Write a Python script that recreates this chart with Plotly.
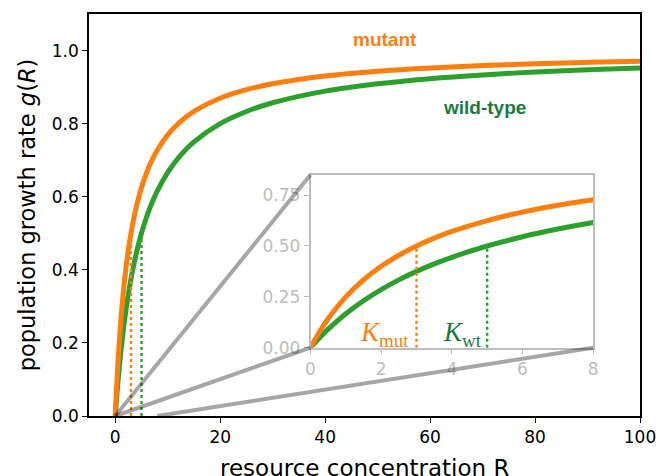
import plotly.graph_objects as go

# data
R = [0, 0.25, 0.5, 1, 1.5, 2, 2.5, 3, 3.5, 4, 5, 6, 7, 8, 10, 12, 15, 20, 25,
     30, 40, 50, 60, 70, 80, 90, 100]
g_mut = [0, 0.0769, 0.1429, 0.25, 0.3333, 0.4, 0.4545, 0.5, 0.5385, 0.5714,
         0.625, 0.6667, 0.7, 0.7273, 0.7692, 0.8, 0.8333, 0.8696, 0.8929,
         0.9091, 0.9302, 0.9434, 0.9524, 0.9589, 0.9639, 0.9677, 0.9709]
g_wt = [0, 0.0476, 0.0909, 0.1667, 0.2308, 0.2857, 0.3333, 0.375, 0.4118,
        0.4444, 0.5, 0.5455, 0.5833, 0.6154, 0.6667, 0.7059, 0.75, 0.8,
        0.8333, 0.8571, 0.8889, 0.9091, 0.9231, 0.9333, 0.9412, 0.9474, 0.9524]
K_mut = 3
K_wt = 5
half = 0.5
main_xticks = [0, 20, 40, 60, 80, 100]
main_yticks = [0.0, 0.2, 0.4, 0.6, 0.8, 1.0]
inset_xticks = [0, 2, 4, 6, 8]
inset_yticks = [0.0, 0.25, 0.5, 0.75]

ORANGE = "#ff7f0e"
GREEN = "#2ca02c"
DKGREEN = "#1a7a3c"
GRAY = "rgba(0,0,0,0.35)"
LGRAY = "#bdbdbd"

main_xr = [-5, 100]
main_yr = [0, 1.1]
inset_xr = [0, 8]
inset_yr = [0, 0.85]
inset_dx = [0.402, 0.915]
inset_dy = [0.170, 0.600]

fig = go.Figure()

for xa, ya, w in [("x", "y", 5), ("x2", "y2", 5)]:
    fig.add_trace(go.Scatter(x=R, y=g_wt, mode="lines", line=dict(color=GREEN, width=w, shape="spline"),
                             xaxis=xa, yaxis=ya, showlegend=False, hoverinfo="skip"))
    fig.add_trace(go.Scatter(x=R, y=g_mut, mode="lines", line=dict(color=ORANGE, width=w, shape="spline"),
                             xaxis=xa, yaxis=ya, showlegend=False, hoverinfo="skip"))
    fig.add_trace(go.Scatter(x=[K_mut, K_mut], y=[0, half], mode="lines",
                             line=dict(color=ORANGE, width=2.4, dash="dot"),
                             xaxis=xa, yaxis=ya, showlegend=False, hoverinfo="skip"))
    fig.add_trace(go.Scatter(x=[K_wt, K_wt], y=[0, half], mode="lines",
                             line=dict(color=GREEN, width=2.4, dash="dot"),
                             xaxis=xa, yaxis=ya, showlegend=False, hoverinfo="skip"))


def to_paper_x(v):
    return (v - main_xr[0]) / (main_xr[1] - main_xr[0])


def to_paper_y(v):
    return (v - main_yr[0]) / (main_yr[1] - main_yr[0])


# connector lines from zoomed region to inset corners
conns = [((inset_xr[0], inset_yr[0]), (inset_dx[0], inset_dy[1])),
         ((inset_xr[0], inset_yr[0]), (inset_dx[0], inset_dy[0])),
         ((inset_xr[1], inset_yr[0]), (inset_dx[1], inset_dy[0]))]
for (sx, sy), (ex, ey) in conns:
    fig.add_shape(type="line", xref="paper", yref="paper",
                  x0=to_paper_x(sx), y0=to_paper_y(sy), x1=ex, y1=ey,
                  line=dict(color=GRAY, width=4), layer="above")

fig.add_annotation(x=51.4, y=1.03, xref="x", yref="y", text="<b>mutant</b>", showarrow=False,
                   font=dict(family="Liberation Sans", size=19, color=ORANGE))
fig.add_annotation(x=70.4, y=0.845, xref="x", yref="y", text="<b>wild-type</b>", showarrow=False,
                   font=dict(family="Liberation Sans", size=19, color=DKGREEN))
fig.add_annotation(x=2.1, y=0.065, xref="x2", yref="y2", text="<i>K</i><sub>mut</sub>", showarrow=False,
                   font=dict(family="Liberation Serif", size=27, color=ORANGE))
fig.add_annotation(x=4.3, y=0.065, xref="x2", yref="y2", text="<i>K</i><sub>wt</sub>", showarrow=False,
                   font=dict(family="Liberation Serif", size=27, color=DKGREEN))
# x-axis title (placed as annotation so it can sit partly below the page edge)
fig.add_annotation(x=0.5, y=-0.13, xref="paper", yref="paper", text="resource concentration R",
                   showarrow=False, yanchor="middle", font=dict(family="DejaVu Sans", size=23, color="black"))

fig.update_layout(
    width=659, height=476,
    margin=dict(l=89, r=19, t=14, b=60, autoexpand=False),
    paper_bgcolor="white", plot_bgcolor="white",
    font=dict(family="DejaVu Sans", size=17, color="black"),
    xaxis=dict(range=main_xr, tickvals=main_xticks, showgrid=False, zeroline=False, automargin=False,
               showline=True, linecolor="black", linewidth=1.6, mirror=True,
               ticks="outside", ticklen=5, tickwidth=1.4, tickcolor="black"),
    yaxis=dict(range=main_yr, tickvals=main_yticks, tickformat=".1f", showgrid=False, zeroline=False,
               automargin=False,
               showline=True, linecolor="black", linewidth=1.6, mirror=True,
               ticks="outside", ticklen=5, tickwidth=1.4, tickcolor="black",
               title=dict(text="population growth rate <i>g</i>(<i>R</i>)", font=dict(size=22.5), standoff=10)),
    xaxis2=dict(domain=inset_dx, anchor="y2", range=inset_xr, tickvals=inset_xticks, automargin=False,
                showgrid=False, zeroline=False, showline=True, linecolor=LGRAY, linewidth=1.6,
                mirror=True, ticks="outside", ticklen=5, tickwidth=1.4, tickcolor=LGRAY,
                tickfont=dict(color=LGRAY, size=17)),
    yaxis2=dict(domain=inset_dy, anchor="x2", range=inset_yr, tickvals=inset_yticks, tickformat=".2f",
                automargin=False,
                showgrid=False, zeroline=False, showline=True, linecolor=LGRAY, linewidth=1.6,
                mirror=True, ticks="outside", ticklen=5, tickwidth=1.4, tickcolor=LGRAY,
                tickfont=dict(color=LGRAY, size=17)),
)

fig.write_html("out.html")
